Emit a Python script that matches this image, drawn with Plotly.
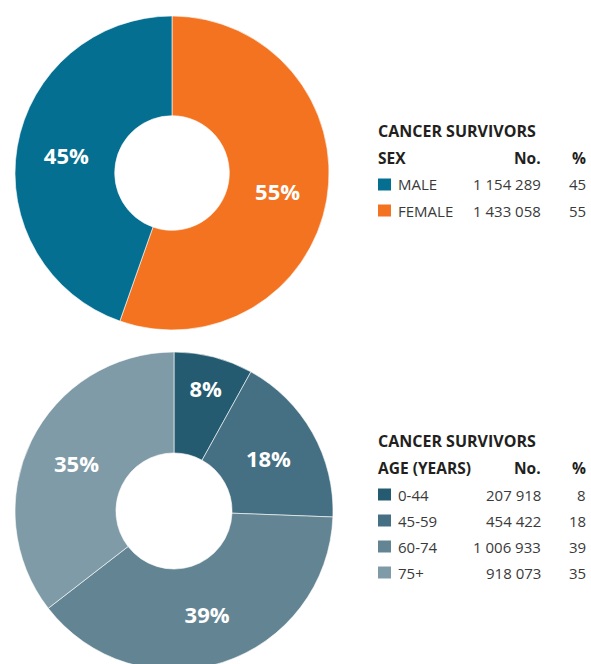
import plotly.graph_objects as go

# ---- data ----
sex_labels = ["MALE", "FEMALE"]
sex_counts = [1154289, 1433058]
sex_count_text = ["1 154 289", "1 433 058"]
sex_pct = [45, 55]
sex_colors = ["#046f91", "#f37321"]

age_labels = ["0-44", "45-59", "60-74", "75+"]
age_counts = [207918, 454422, 1006933, 918073]
age_count_text = ["207 918", "454 422", "1 006 933", "918 073"]
age_pct = [8, 18, 39, 35]
age_colors = ["#245b70", "#456f82", "#638593", "#809ba8"]

W, H = 591, 672
FONT = "Open Sans"
DARK = "#231f20"
ROW = "#3a3a3a"


def px(x):
    return x / W


def py(y):
    return 1 - y / H


fig = go.Figure()

# female first, clockwise from 12 o'clock, so male ends up on the left
fig.add_trace(go.Pie(
    labels=sex_labels[::-1], values=sex_counts[::-1],
    text=[f"{p}%" for p in sex_pct[::-1]], texttemplate="%{text}",
    textposition="inside", insidetextorientation="horizontal",
    sort=False, direction="clockwise", hole=0.365,
    marker=dict(colors=sex_colors[::-1], line=dict(color="white", width=0.6)),
    textfont=dict(family=FONT, size=22, color="white", weight="bold"),
    domain=dict(x=[px(15), px(329)], y=[py(330), py(16)]),
    showlegend=False, hoverinfo="label+value",
))

fig.add_trace(go.Pie(
    labels=age_labels, values=age_counts,
    text=[f"{p}%" for p in age_pct], texttemplate="%{text}",
    textposition="inside", insidetextorientation="horizontal",
    sort=False, direction="clockwise", hole=0.365,
    marker=dict(colors=age_colors, line=dict(color="white", width=0.6)),
    textfont=dict(family=FONT, size=22, color="white", weight="bold"),
    domain=dict(x=[px(15), px(333)], y=[py(670), py(352)]),
    showlegend=False, hoverinfo="label+value",
))

annotations = []
shapes = []


def txt(x, y, s, anchor, bold=False, color=ROW, size=15):
    annotations.append(dict(
        x=px(x), y=py(y), xref="paper", yref="paper", text=s,
        showarrow=False, xanchor=anchor, yanchor="middle",
        font=dict(family=FONT, size=size, color=color,
                  weight="bold" if bold else "normal"),
    ))


def table(y0, header, labels, counts, pcts, colors):
    txt(376, y0, "CANCER SURVIVORS", "left", True, DARK, 16)
    txt(376, y0 + 26.5, header, "left", True, DARK, 15.5)
    txt(543, y0 + 26.5, "No.", "right", True, DARK, 15.5)
    txt(588, y0 + 26.5, "%", "right", True, DARK, 15.5)
    for i, (lab, c, p, col) in enumerate(zip(labels, counts, pcts, colors)):
        yy = y0 + 53.5 + 26 * i
        shapes.append(dict(type="rect", xref="paper", yref="paper",
                           x0=px(378), x1=px(391), y0=py(yy + 6), y1=py(yy - 6),
                           fillcolor=col, line=dict(width=0)))
        txt(396, yy, lab, "left")
        txt(543, yy, c, "right")
        txt(588, yy, str(p), "right")


table(131, "SEX", sex_labels, sex_count_text, sex_pct, sex_colors)
table(441, "AGE (YEARS)", age_labels, age_count_text, age_pct, age_colors)

fig.update_layout(
    width=W, height=H,
    margin=dict(l=0, r=0, t=0, b=0),
    paper_bgcolor="white", plot_bgcolor="white",
    annotations=annotations, shapes=shapes,
    font=dict(family=FONT),
)

fig.write_html(
    "out.html",
    config={"displayModeBar": False},
    post_script="document.body.style.margin='0';document.body.style.overflow='hidden';document.documentElement.style.overflow='hidden';",
)
